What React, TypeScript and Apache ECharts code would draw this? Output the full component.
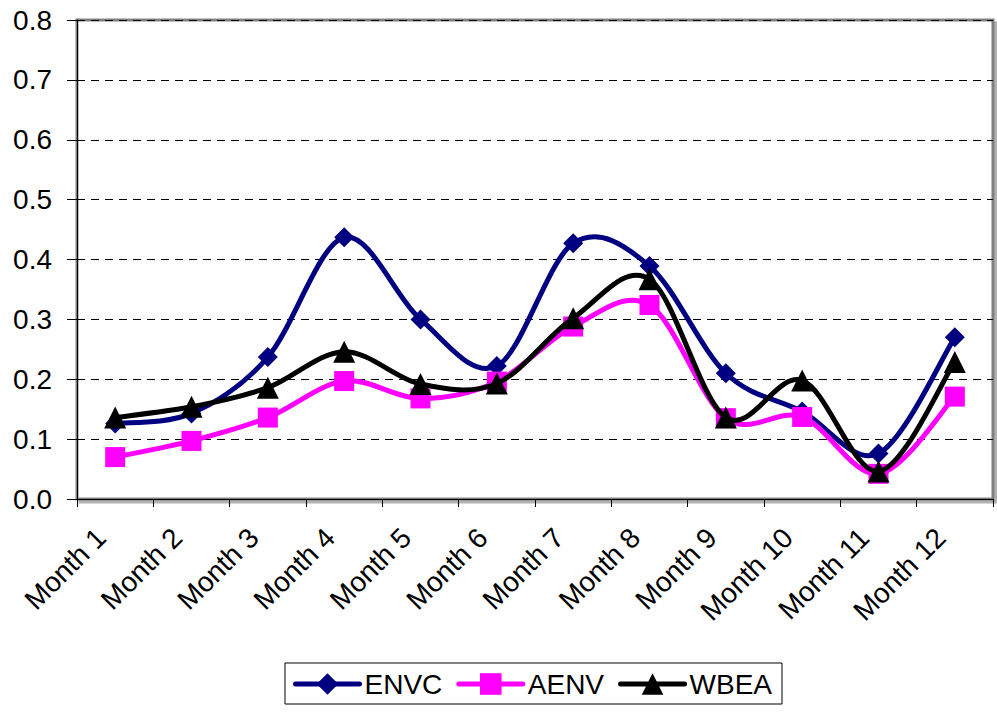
import React, { useEffect, useRef } from "react";
import * as echarts from "echarts";

const months = [
  "Month 1", "Month 2", "Month 3", "Month 4", "Month 5", "Month 6",
  "Month 7", "Month 8", "Month 9", "Month 10", "Month 11", "Month 12",
];
const envc = [0.126, 0.143, 0.237, 0.437, 0.3, 0.222, 0.427, 0.389, 0.21, 0.146, 0.076, 0.27];
const aenv = [0.07, 0.097, 0.136, 0.197, 0.168, 0.196, 0.288, 0.324, 0.135, 0.137, 0.042, 0.171];
const wbea = [0.136, 0.154, 0.186, 0.246, 0.192, 0.193, 0.302, 0.367, 0.136, 0.198, 0.046, 0.229];

const FONT = "'Liberation Sans', Arial, sans-serif";
const LINE_W = 5;

// Smoothed curve drawn segment by segment (Catmull-Rom style Bezier through each point).
function curveSeries(name: string, values: number[], color: string, z: number) {
  return {
    name,
    type: "custom",
    silent: true,
    z,
    data: values.map((v, i) => [i, v]),
    renderItem: (params: any, api: any) => {
      const i = params.dataIndex;
      const n = values.length;
      if (i >= n - 1) return { type: "group", children: [] };
      const pt = (k: number) => {
        const kk = Math.max(0, Math.min(n - 1, k));
        return api.coord([kk, values[kk]]);
      };
      const p0 = pt(i - 1);
      const p1 = pt(i);
      const p2 = pt(i + 1);
      const p3 = pt(i + 2);
      const t = 1 / 6;
      return {
        type: "bezierCurve",
        shape: {
          x1: p1[0],
          y1: p1[1],
          cpx1: p1[0] + (p2[0] - p0[0]) * t,
          cpy1: p1[1] + (p2[1] - p0[1]) * t,
          cpx2: p2[0] - (p3[0] - p1[0]) * t,
          cpy2: p2[1] - (p3[1] - p1[1]) * t,
          x2: p2[0],
          y2: p2[1],
        },
        style: { stroke: color, lineWidth: LINE_W, fill: null, lineCap: "round", lineJoin: "round" },
      };
    },
  };
}

function markerSeries(name: string, values: number[], color: string, symbol: string, size: number, z: number) {
  return {
    name,
    type: "line",
    z,
    data: values,
    symbol,
    symbolSize: size,
    showAllSymbol: true,
    lineStyle: { color, width: 0, opacity: 0 },
    itemStyle: { color, borderWidth: 0 },
  };
}

export default function App() {
  const ref = useRef<HTMLDivElement>(null);
  useEffect(() => {
    if (!ref.current) return;
    const chart = echarts.init(ref.current, undefined, { renderer: "svg" });
    const legendItem = (name: string, color: string) => ({
      name,
      lineStyle: { color, width: LINE_W, opacity: 1, cap: "round" },
      itemStyle: { color },
    });
    chart.setOption({
      animation: false,
      backgroundColor: "#ffffff",
      textStyle: { fontFamily: FONT },
      grid: {
        left: 77,
        right: 4,
        top: 20,
        bottom: 220,
        show: true,
        borderColor: "#808080",
        borderWidth: 3,
        backgroundColor: "#ffffff",
        shadowColor: "#b0b0b0",
        shadowOffsetX: 3,
        shadowOffsetY: 3,
        shadowBlur: 0,
      },
      legend: {
        left: 285,
        top: 663,
        orient: "horizontal",
        borderColor: "#000000",
        borderWidth: 1,
        padding: [7, 10, 6, 8],
        itemGap: 14,
        itemWidth: 64,
        itemHeight: 27,
        textStyle: { fontSize: 28, color: "#000000", fontFamily: FONT },
        data: [
          legendItem("ENVC", "#000080"),
          legendItem("AENV", "#ff00ff"),
          legendItem("WBEA", "#000000"),
        ],
      },
      xAxis: {
        type: "category",
        data: months,
        boundaryGap: true,
        axisLine: { show: true, lineStyle: { color: "#000000", width: 1 } },
        axisTick: { show: true, length: 8, lineStyle: { color: "#000000" } },
        axisLabel: {
          rotate: 45,
          margin: 20,
          padding: [0, 20, 0, 0],
          fontSize: 28,
          color: "#000000",
          fontFamily: FONT,
          interval: 0,
        },
      },
      yAxis: {
        type: "value",
        min: 0,
        max: 0.8,
        interval: 0.1,
        axisLine: { show: true, lineStyle: { color: "#000000", width: 1 } },
        axisTick: { show: true, length: 10, lineStyle: { color: "#000000" } },
        axisLabel: {
          margin: 25,
          fontSize: 28,
          color: "#000000",
          fontFamily: FONT,
          formatter: (v: number) => v.toFixed(1),
        },
        splitLine: { show: true, lineStyle: { color: "#000000", width: 1, type: [8, 6] } },
      },
      series: [
        markerSeries("ENVC", envc, "#000080", "diamond", 20, 3),
        curveSeries("ENVC", envc, "#000080", 2),
        markerSeries("AENV", aenv, "#ff00ff", "rect", 20, 5),
        curveSeries("AENV", aenv, "#ff00ff", 4),
        markerSeries("WBEA", wbea, "#000000", "triangle", 22, 7),
        curveSeries("WBEA", wbea, "#000000", 6),
      ],
    });
    return () => chart.dispose();
  }, []);
  return <div ref={ref} style={{ width: 997, height: 719, position: "absolute", left: 0, top: 0 }} />;
}
